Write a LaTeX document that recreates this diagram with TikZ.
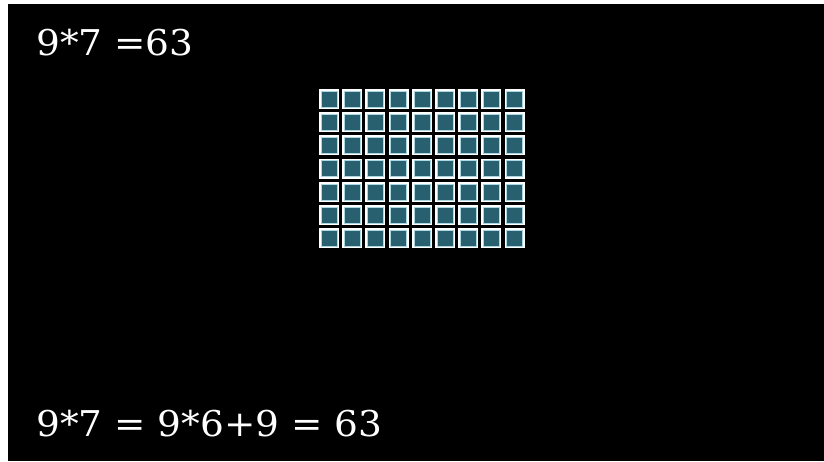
\documentclass[tikz,border=0pt]{standalone}
\usepackage{fontspec}
\usepackage{tikz}
\usetikzlibrary{positioning, calc}
\newfontfamily\eqfont{DejaVu Serif}
\definecolor{tealfill}{RGB}{40,96,112}
\definecolor{paleedge}{RGB}{170,215,225}
\newcommand{\wideeq}[1]{\scalebox{1.055}[1]{#1}}

\begin{document}
\begin{tikzpicture}[
    x=1pt, y=-1pt,
    cellbox/.style={rectangle, draw=white, line width=2pt, fill=tealfill, minimum size=18pt, inner sep=0pt, anchor=north west},
    inneredge/.style={draw=paleedge, line width=0.6pt},
    eqtext/.style={text=white, inner sep=0pt, anchor=base west, font=\eqfont\fontsize{35.5}{40}\selectfont}
]
\useasboundingbox (0,0) rectangle (824,461);
\fill[white] (0,0) rectangle (824,461);
\fill[black] (8,4) rectangle (824,461);

% 9 x 7 grid of cells
\foreach \i in {0,...,8} {
  \foreach \j in {0,...,6} {
    \node[cellbox] (cell-\i-\j) at ({319+23.2*\i},{89+23.2*\j}) {};
    \draw[inneredge] ($(cell-\i-\j.north west)+(2,2)$) rectangle ($(cell-\i-\j.south east)+(-2,-2)$);
  }
}

\node[eqtext] (product) at (36,55) {\wideeq{9*7 =63}};
\node[eqtext] (split) at (36,436) {\wideeq{9*7 = 9*6+9 = 63}};
\end{tikzpicture}
\end{document}
